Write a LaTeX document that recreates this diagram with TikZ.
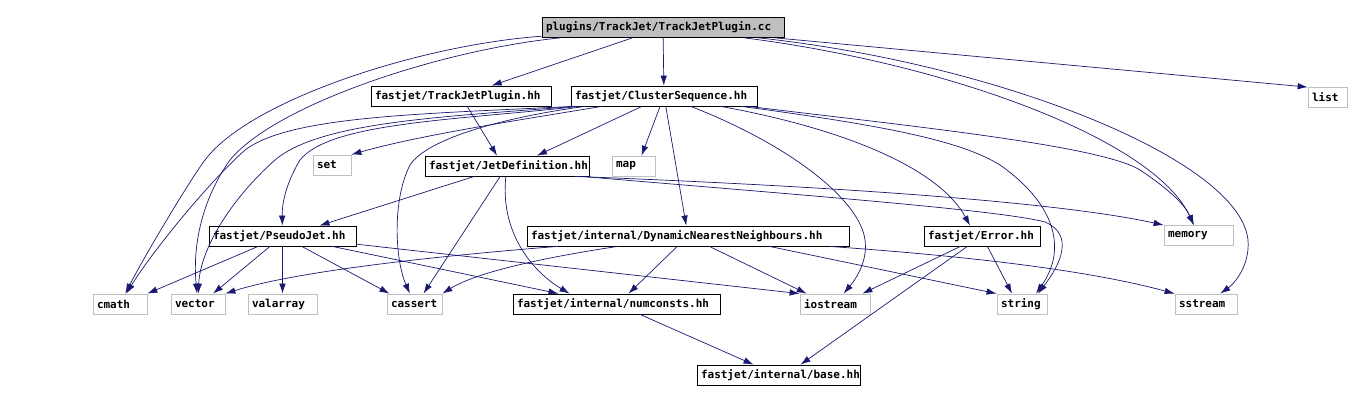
\documentclass[tikz,border=0pt]{standalone}
\usepackage{fontspec}
\newfontfamily\depfont{DejaVu Sans Mono}
\usetikzlibrary{arrows.meta}
\definecolor{edgeblue}{RGB}{25,25,112}
\definecolor{boxgray}{RGB}{191,191,191}

\begin{document}
\begin{tikzpicture}[x=1pt, y=-1pt,
  hdr/.style={draw=black, fill=white, line width=0.8pt, font=\depfont\bfseries\fontsize{11}{13}\selectfont, text width=#1, align=left, inner xsep=4pt, inner ysep=0pt, minimum height=20pt},
  sys/.style={hdr=#1, draw=boxgray},
  dep/.style={draw=edgeblue, line width=0.7pt, -{Latex[length=10pt,width=6.5pt]}}]
\useasboundingbox (0,0) rectangle (1350,401);

\node[hdr=234pt, fill=boxgray] (root) at (663,27.5) {plugins/TrackJet/TrackJetPlugin.cc};

\node[hdr=172pt] (tjp) at (461,96) {fastjet/TrackJetPlugin.hh};
\node[hdr=178pt] (cs) at (664,96) {fastjet/ClusterSequence.hh};
\node[sys=31pt] (list) at (1327.5,97.5) {list};

\node[sys=30pt] (set) at (332,165) {set};
\node[hdr=156pt] (jd) at (507,166) {fastjet/JetDefinition.hh};
\node[sys=35pt] (map) at (633.5,166) {map};

\node[hdr=139pt] (pj) at (282.5,236) {fastjet/PseudoJet.hh};
\node[hdr=314pt] (dnn) at (688,236) {fastjet/internal/DynamicNearestNeighbours.hh};
\node[hdr=108pt] (err) at (982,236) {fastjet/Error.hh};
\node[sys=61pt] (mem) at (1198.5,235.5) {memory};

\node[sys=46pt] (cmath) at (120,304) {cmath};
\node[sys=46pt] (vec) at (198,304) {vector};
\node[sys=61pt] (val) at (282.5,304) {valarray};
\node[sys=47pt] (cas) at (414.5,304) {cassert};
\node[hdr=199pt] (num) at (616.5,304) {fastjet/internal/numconsts.hh};
\node[sys=62pt] (ios) at (835,304) {iostream};
\node[sys=42pt] (str) at (1022,304) {string};
\node[sys=54pt] (sst) at (1206,304) {sstream};

\node[hdr=155pt] (base) at (778.5,375) {fastjet/internal/base.hh};

\draw[dep] (root) -- (tjp);
\draw[dep] (root) -- (cs);
\draw[dep] (root) -- (list.north west);
\draw[dep] (root) .. controls (950,64) and (1155,140) .. (mem);
\draw[dep] (root) .. controls (1000,64) and (1240,160) .. (1248,240) .. controls (1250,265) and (1235,283) .. (sst);
\draw[dep] (root) .. controls (420,45) and (250,100) .. (205,160) .. controls (190,180) and (145,255) .. (cmath);
\draw[dep] (root) .. controls (440,50) and (275,105) .. (230,160) .. controls (205,195) and (192,240) .. (vec);

\draw[dep] (cs) -- ([xshift=30pt]jd.north);
\draw[dep] (cs) -- ([xshift=8pt]map.north);
\draw[dep] (cs) -- (dnn);
\draw[dep] (cs) .. controls (520,120) and (420,135) .. (set.north east);
\draw[dep] ([xshift=8pt]cs.south west) .. controls (460,120) and (330,122) .. (300,160) .. controls (285,185) and (282,205) .. (pj);
\draw[dep] ([xshift=2pt]cs.south west) .. controls (420,114) and (290,116) .. (245,150) .. controls (205,186) and (150,255) .. (cmath);
\draw[dep] ([xshift=5pt]cs.south west) .. controls (440,117) and (320,122) .. (275,160) .. controls (230,200) and (200,250) .. (vec);
\draw[dep] (cs) .. controls (520,115) and (430,135) .. (410,165) .. controls (392,200) and (395,260) .. (cas);
\draw[dep] (cs) .. controls (790,145) and (860,200) .. (865,240) .. controls (868,262) and (855,280) .. (ios);
\draw[dep] (cs) .. controls (850,130) and (940,170) .. ([xshift=-12pt]err.north);
\draw[dep] (cs) .. controls (900,125) and (1100,145) .. (1140,170) .. controls (1170,190) and (1185,205) .. (mem);
\draw[dep] (cs) .. controls (880,125) and (960,140) .. (1000,165) .. controls (1050,200) and (1070,245) .. ([xshift=14pt]str.north);

\draw[dep] (tjp) -- ([xshift=-10pt]jd.north);

\draw[dep] (jd) -- ([xshift=37pt]pj.north);
\draw[dep] (jd) -- ([xshift=9pt]cas.north);
\draw[dep] (jd) .. controls (500,230) and (530,270) .. ([xshift=-47pt]num.north);
\draw[dep] ([xshift=-15pt]jd.south east) .. controls (800,185) and (1050,200) .. (mem.north west);
\draw[dep] ([xshift=-8pt]jd.south east) .. controls (800,195) and (1000,210) .. (1045,222) .. controls (1075,235) and (1060,265) .. ([xshift=16pt]str.north);

\draw[dep] (pj) -- (cmath.north east);
\draw[dep] (pj) -- ([xshift=15pt]vec.north);
\draw[dep] (pj) -- (val);
\draw[dep] (pj) -- ([xshift=-25pt]cas.north);
\draw[dep] (pj) -- ([xshift=-58pt]num.north);
\draw[dep] (pj) -- (ios.north west);

\draw[dep] (dnn) .. controls (450,255) and (300,270) .. (vec.north east);
\draw[dep] (dnn) .. controls (560,255) and (480,270) .. (cas.north east);
\draw[dep] (dnn) -- ([xshift=12pt]num.north);
\draw[dep] (dnn) -- ([xshift=7pt]ios.north west);
\draw[dep] ([xshift=-80pt]dnn.south east) -- (str.north west);
\draw[dep] ([xshift=-20pt]dnn.south east) .. controls (950,255) and (1080,268) .. (sst.north west);

\draw[dep] (err) -- ([xshift=-8pt]ios.north east);
\draw[dep] (err) -- ([xshift=-10pt]str.north);
\draw[dep] (err) -- ([xshift=22pt]base.north);

\draw[dep] (num) -- ([xshift=-25pt]base.north);

\end{tikzpicture}
\end{document}
